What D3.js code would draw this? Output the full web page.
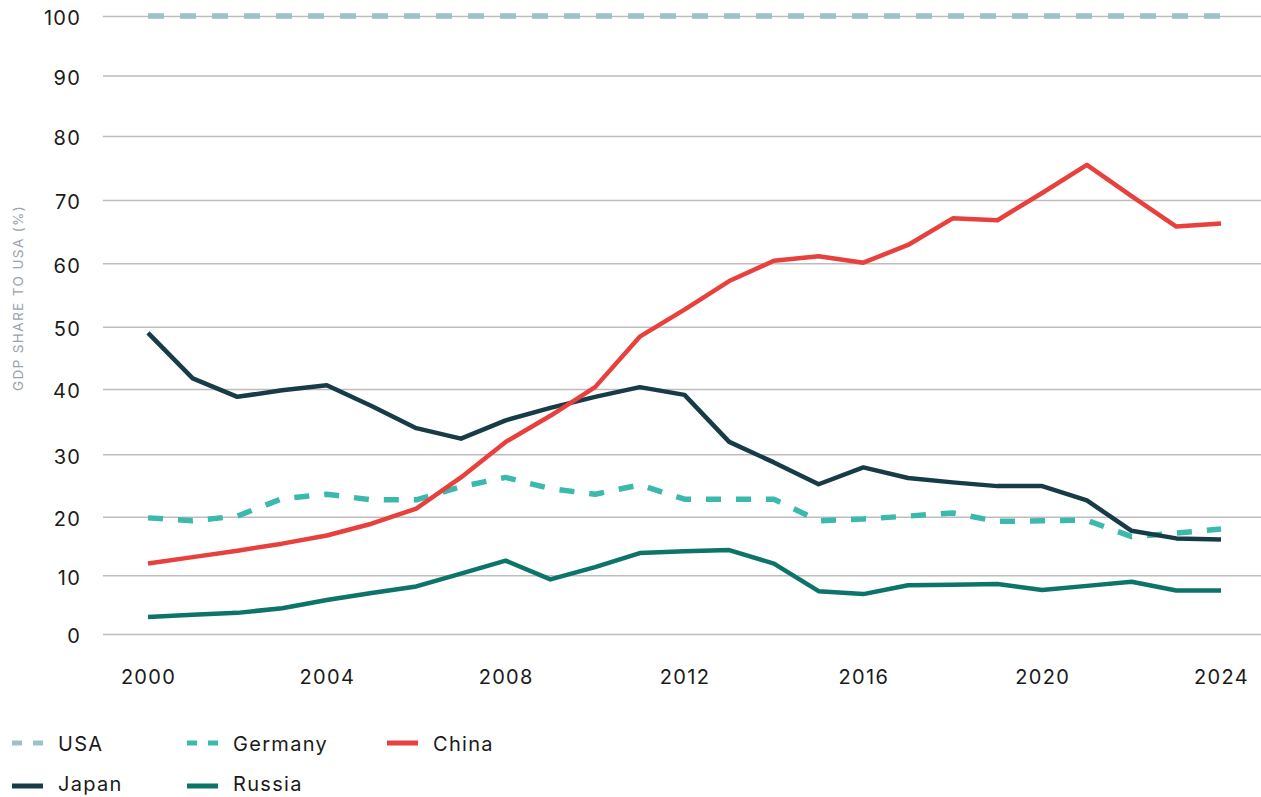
<!DOCTYPE html>
<html>
<head>
<meta charset="utf-8">
<script src="https://cdn.jsdelivr.net/npm/d3@7"></script>
<style>
  body { margin: 0; background: #fff; }
  svg { display: block; font-family: Inter, "Noto Sans", sans-serif; }
</style>
</head>
<body>
<script>
let w = 1261
let h = 797

// data (GDP as % of USA)
let years = d3.range(2000, 2025)
let usa = years.map(() => 100)
let germany = [19.8, 19.3, 20.1, 22.9, 23.6, 22.7, 22.7, 24.8, 26.3, 24.5, 23.6, 25.1, 22.8, 22.8, 22.8, 19.3, 19.6, 20.1, 20.6, 19.2, 19.3, 19.4, 16.6, 17.2, 17.9]
let china = [12.0, 13.1, 14.2, 15.4, 16.8, 18.8, 21.3, 26.3, 31.9, 35.9, 40.3, 48.4, 52.7, 57.2, 60.4, 61.1, 60.1, 62.9, 67.1, 66.8, 71.1, 75.5, 70.6, 65.8, 66.3]
let japan = [49.0, 41.7, 38.8, 39.8, 40.6, 37.4, 34.0, 32.4, 35.2, 37.1, 38.8, 40.3, 39.1, 31.9, 28.7, 25.2, 27.9, 26.2, 25.5, 24.9, 24.9, 22.6, 17.6, 16.3, 16.1]
let russia = [2.9, 3.3, 3.6, 4.4, 5.8, 7.0, 8.1, 10.3, 12.5, 9.3, 11.4, 13.8, 14.1, 14.3, 12.0, 7.3, 6.8, 8.3, 8.4, 8.5, 7.5, 8.2, 8.9, 7.4, 7.4]

let yTicks = d3.range(0, 101, 10)
let xTicks = [2000, 2004, 2008, 2012, 2016, 2020, 2024]

let series = [
    { name: "USA", values: usa, color: "#9dc1c6", dash: "16,16" },
    { name: "Germany", values: germany, color: "#3cb9ad", dash: "15,15" },
    { name: "China", values: china, color: "#e8403d", dash: null },
    { name: "Japan", values: japan, color: "#173c48", dash: null },
    { name: "Russia", values: russia, color: "#0c7469", dash: null }
]
// draw order: USA, Germany, Russia, Japan, China on top
let drawOrder = ["USA", "Germany", "Russia", "Japan", "China"]

let svg = d3.select("body")
    .append("svg")
    .attr("width", w)
    .attr("height", h)
    .attr("viewBox", "0 0 " + w + " " + h)

let x = d3.scaleLinear()
    .domain([2000, 2024])
    .range([148, 1221])

// the original's gridlines are not evenly spaced, so use a polylinear scale
let y = d3.scaleLinear()
    .domain(yTicks)
    .range([634, 575.3, 516.7, 454.3, 389, 326.7, 263.3, 200, 136, 75.5, 16])

// gridlines + labels
let yAxis = svg.append("g")
    .attr("transform", "translate(103,0)")
    .call(d3.axisRight(y)
        .tickValues(yTicks)
        .tickSize(w - 103)
        .tickFormat(""))
yAxis.select(".domain").remove()
yAxis.selectAll("line")
    .attr("stroke", "#bdbdbd")
    .attr("stroke-width", 1.5)

svg.append("g")
    .selectAll("text")
    .data(yTicks)
    .enter()
    .append("text")
    .attr("x", 81)
    .attr("y", d => y(d))
    .attr("dy", "0.46em")
    .attr("text-anchor", "end")
    .attr("font-size", 20)
    .attr("letter-spacing", 1.2)
    .attr("fill", "#1a1a1a")
    .text(d => d)

let xAxis = svg.append("g")
    .attr("transform", "translate(0,667)")
    .call(d3.axisBottom(x)
        .tickValues(xTicks)
        .tickSize(0)
        .tickFormat(d3.format("d")))
xAxis.select(".domain").remove()
xAxis.selectAll("text")
    .attr("font-size", 20)
    .attr("letter-spacing", 1.3)
    .attr("font-family", "Inter, 'Noto Sans', sans-serif")
    .attr("fill", "#1a1a1a")
    .attr("dy", "0.71em")

svg.append("text")
    .attr("transform", "translate(23,298) rotate(-90)")
    .attr("text-anchor", "middle")
    .attr("font-size", 13.5)
    .attr("letter-spacing", 1.4)
    .attr("fill", "#97a3ad")
    .text("GDP SHARE TO USA (%)")

let line = d3.line()
    .x((d, i) => x(years[i]))
    .y(d => y(d))

svg.append("g")
    .selectAll("path")
    .data(drawOrder.map(n => series.find(s => s.name == n)))
    .enter()
    .append("path")
    .attr("d", d => line(d.values))
    .attr("fill", "none")
    .attr("stroke", d => d.color)
    .attr("stroke-width", d => d.dash ? 5.5 : 4.5)
    .attr("stroke-dasharray", d => d.dash)
    .attr("stroke-linejoin", "round")

// legend
let legendPos = [[12, 743], [187, 743], [387, 743], [12, 786], [187, 786]]
let legend = svg.append("g")
    .selectAll("g")
    .data(series)
    .enter()
    .append("g")
    .attr("transform", (d, i) => "translate(" + legendPos[i][0] + "," + legendPos[i][1] + ")")

legend.append("line")
    .attr("x1", 0)
    .attr("x2", 31)
    .attr("stroke", d => d.color)
    .attr("stroke-width", 5)
    .attr("stroke-dasharray", d => d.dash ? "10,11" : null)

// bottom row sits close to the edge, nudge its text up a little
legend.append("text")
    .attr("x", 46)
    .attr("y", (d, i) => i > 2 ? -3 : 0)
    .attr("dy", "0.38em")
    .attr("font-size", 20)
    .attr("letter-spacing", 1.3)
    .attr("fill", "#1a1a1a")
    .text(d => d.name)
</script>
</body>
</html>
